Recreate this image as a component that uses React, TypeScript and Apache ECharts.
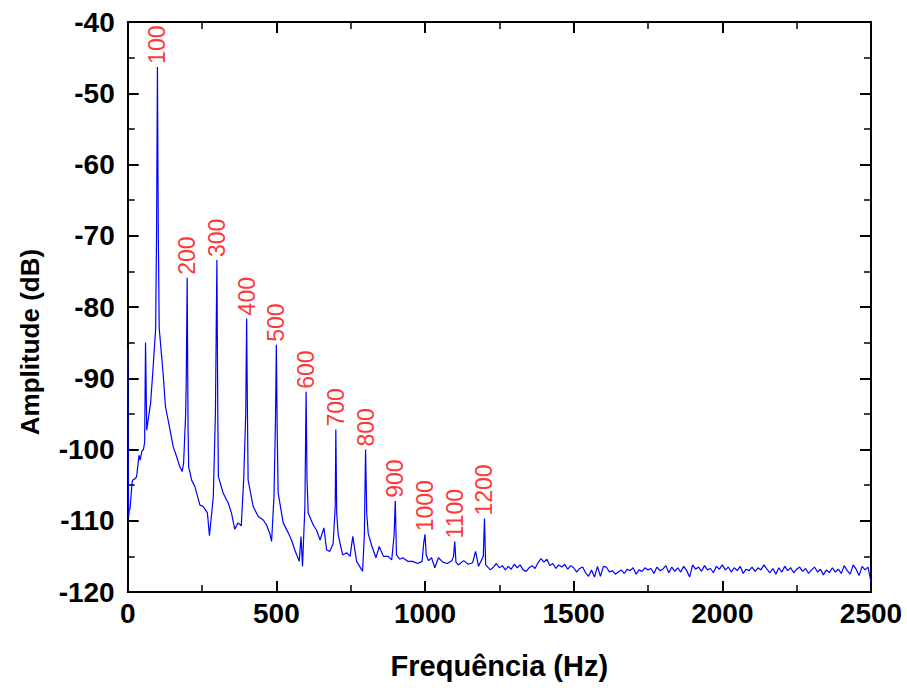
import React, { useEffect, useRef } from "react";
import * as echarts from "echarts";

// Spectrum below 1230 Hz: [frequency Hz, amplitude dB]
const lowBand: [number, number][] = [
  [0, -86.0], [3, -109.5], [5, -108.5], [8, -108.3], [15, -104.5], [17, -104.3],
  [25, -104.1], [30, -103.8], [38, -100.8], [42, -101.5], [48, -100.2], [53, -100.0],
  [57, -99.0], [60, -85.0], [64, -97.3], [70, -95.5], [77, -93.5], [85, -88.8],
  [94, -83.0], [97, -70.0], [100, -46.3], [103, -70.0], [106, -83.0], [119, -89.3],
  [127, -94.0], [138, -96.3], [153, -99.6], [166, -101.2], [175, -102.4], [183, -103.1],
  [188, -101.9], [195, -95.0], [197, -90.0], [200, -75.9], [203, -97.0], [205, -102.4],
  [215, -104.3], [226, -105.2], [243, -107.8], [254, -108.0], [268, -108.9], [275, -112.1],
  [288, -106.6], [295, -94.9], [300, -73.4], [303, -95.0], [305, -103.8], [321, -106.1],
  [338, -107.5], [349, -108.9], [360, -111.2], [371, -110.3], [382, -110.7], [390, -104.3],
  [397, -95.0], [400, -81.6], [403, -96.0], [405, -104.3], [422, -108.0], [439, -109.4],
  [456, -109.9], [467, -110.6], [478, -111.8], [484, -112.9], [492, -106.6], [497, -96.0],
  [500, -85.3], [503, -98.0], [506, -106.1], [523, -110.3], [540, -111.7], [551, -112.7],
  [562, -114.1], [577, -115.7], [583, -112.2], [588, -116.4], [596, -108.0], [600, -91.9],
  [603, -104.0], [607, -108.9], [624, -110.6], [635, -111.3], [647, -112.7], [660, -111.0],
  [669, -114.1], [680, -114.3], [691, -113.2], [698, -108.0], [700, -97.2], [703, -109.0],
  [708, -112.0], [723, -114.8], [737, -114.5], [748, -115.0], [757, -112.2], [770, -115.7],
  [790, -117.1], [796, -112.0], [800, -100.0], [804, -109.0], [809, -111.8], [820, -113.4],
  [835, -115.2], [846, -113.6], [860, -115.0], [876, -115.0], [888, -115.5], [896, -112.0],
  [900, -107.2], [904, -114.8], [915, -115.4], [925, -115.2], [942, -115.7], [958, -115.7],
  [975, -116.0], [990, -115.7], [996, -113.0], [1000, -111.9], [1004, -114.8], [1012, -115.6],
  [1022, -115.2], [1033, -116.6], [1045, -115.2], [1060, -115.8], [1075, -116.0], [1090, -115.6],
  [1096, -115.0], [1100, -112.9], [1104, -115.8], [1112, -116.2], [1130, -115.6], [1145, -116.1],
  [1160, -115.9], [1170, -114.3], [1180, -116.4], [1196, -115.0], [1200, -109.7], [1204, -116.2],
  [1220, -116.9],
];

// Noise floor from 1230 Hz to 2500 Hz, one reading every 10 Hz
const noiseStartHz = 1230;
const noiseStepHz = 10;
const noiseAmp: number[] = [
  -116.5, -116.0, -116.6, -116.3, -116.9, -116.4, -116.8, -116.1, -116.6, -116.2,
  -116.9, -117.1, -116.6, -116.3, -116.7, -115.9, -115.3, -115.8, -115.4, -116.3,
  -116.0, -116.7, -116.2, -116.5, -116.1, -116.8, -116.3, -116.6, -117.2, -116.7,
  -116.5, -117.3, -117.8, -116.9, -117.9, -116.4, -117.8, -116.4, -116.5, -117.2,
  -117.0, -117.5, -117.2, -116.9, -117.4, -116.8, -117.0, -116.6, -117.5, -116.9,
  -117.1, -116.6, -116.9, -116.7, -117.4, -116.5, -117.0, -116.8, -116.3, -117.3,
  -116.5, -117.1, -116.6, -117.2, -116.4, -117.0, -117.9, -116.2, -116.8, -116.5,
  -117.1, -116.3, -116.9, -116.7, -117.3, -116.4, -116.8, -116.2, -116.9, -116.5,
  -117.2, -116.6, -117.0, -116.4, -117.4, -116.8, -117.0, -116.5, -117.1, -116.6,
  -116.9, -116.2, -116.8, -117.3, -116.7, -117.5, -116.6, -117.2, -116.4, -117.0,
  -116.6, -117.3, -116.8, -116.5, -117.1, -116.7, -117.4, -116.9, -116.5, -117.2,
  -116.8, -117.6, -116.9, -117.3, -116.6, -117.2, -116.8, -117.4, -116.3, -117.0,
  -117.5, -116.2, -116.8, -117.7, -116.4, -116.9, -116.5, -118.6,
];

// Harmonic peaks and their labels
const peakFreqs: number[] = [100, 200, 300, 400, 500, 600, 700, 800, 900, 1000, 1100, 1200];
const peakAmps: number[] = [-46.3, -75.9, -73.4, -81.6, -85.3, -91.9, -97.2, -100.0, -107.2, -111.9, -112.9, -109.7];

const xTicks = { min: 0, max: 2500, interval: 500 };
const yTicks = { min: -120, max: -40, interval: 10 };

const FONT = "'Liberation Sans', Arial, sans-serif";

export default function App() {
  const ref = useRef<HTMLDivElement>(null);

  useEffect(() => {
    if (!ref.current) return;
    const chart = echarts.init(ref.current, undefined, { renderer: "svg" });

    const spectrum: [number, number][] = [
      ...lowBand,
      ...noiseAmp.map((a, i) => [noiseStartHz + i * noiseStepHz, a] as [number, number]),
    ];
    const peaks = peakFreqs.map((f, i) => ({ value: [f, peakAmps[i]], name: String(f) }));

    const tickStyle = { lineStyle: { color: "#000", width: 2 } };
    const common = {
      axisLine: { show: true, onZero: false, lineStyle: { color: "#000", width: 2 } },
      axisTick: { show: true, inside: true, length: 11, ...tickStyle },
      minorTick: { show: true, splitNumber: 2, length: 7, lineStyle: { color: "#000", width: 1.5 } },
      splitLine: { show: false },
    };
    const labelStyle = {
      color: "#000",
      fontFamily: FONT,
      fontWeight: "bold" as const,
      fontSize: 28,
    };

    chart.setOption({
      animation: false,
      backgroundColor: "#fff",
      grid: { left: 127.7, right: 36, top: 22, bottom: 96, containLabel: false },
      xAxis: [
        {
          type: "value",
          position: "bottom",
          ...xTicks,
          ...common,
          axisLabel: { ...labelStyle, margin: 7, formatter: (v: number) => String(v) },
          name: "Frequência (Hz)",
          nameLocation: "middle",
          nameGap: 59,
          nameTextStyle: { ...labelStyle, fontSize: 29 },
        },
        {
          type: "value",
          position: "top",
          ...xTicks,
          ...common,
          axisLabel: { show: false },
        },
      ],
      yAxis: [
        {
          type: "value",
          position: "left",
          ...yTicks,
          ...common,
          axisLabel: { ...labelStyle, margin: 13, formatter: (v: number) => String(v) },
        },
        {
          type: "value",
          position: "right",
          ...yTicks,
          ...common,
          axisLabel: { show: false },
        },
      ],
      graphic: [
        {
          type: "text",
          x: 30,
          y: 342,
          rotation: Math.PI / 2,
          style: {
            text: "Amplitude (dB)",
            font: `bold 26px ${FONT}`,
            fill: "#000",
            align: "center",
            verticalAlign: "middle",
          },
        },
      ],
      series: [
        {
          type: "line",
          data: spectrum,
          showSymbol: false,
          symbol: "none",
          lineStyle: { color: "#0000ff", width: 1.2 },
          z: 2,
        },
        {
          type: "scatter",
          data: peaks,
          symbolSize: 0,
          silent: true,
          label: {
            show: true,
            position: "top",
            distance: 3,
            rotate: 90,
            align: "left",
            verticalAlign: "middle",
            formatter: (p: any) => p.name,
            color: "#ff0000",
            fontFamily: FONT,
            fontSize: 23,
          },
          z: 3,
        },
      ],
    });

    return () => chart.dispose();
  }, []);

  return (
    <div
      ref={ref}
      style={{ position: "fixed", left: 0, top: 0, width: 907, height: 688 }}
    />
  );
}
